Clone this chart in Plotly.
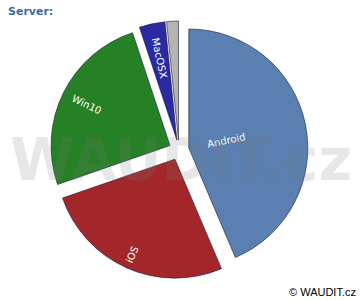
import math
import plotly.graph_objects as go

labels = ["Android", "iOS", "Win10", "MacOSX", "Ostatní"]
values = [43.6, 26.1, 25.2, 3.5, 1.6]
slice_text = ["Android", "iOS", "Win10", "MacOSX", ""]
colors = ["#5a7fb0", "#a3262a", "#268026", "#2a2aa5", "#b4b4b4"]

# label placement style (fraction of radius from the slice apex)
label_radius_frac = [0.32, 0.88, 0.78, 0.71, 0.5]

PULL = 0.084
PLOT_PX = 258.0
R_PX = PLOT_PX / (2 + 2 * PULL)

fig = go.Figure(go.Pie(
    labels=labels,
    values=values,
    textinfo="none",
    marker=dict(colors=colors, line=dict(color="rgba(20,30,50,0.75)", width=0.8)),
    pull=[PULL] * len(values),
    sort=False,
    direction="clockwise",
    rotation=0,
    showlegend=False,
    hoverinfo="label+percent",
))

annotations = []
total = sum(values)
cum = 0.0
for lab, v, frac in zip(slice_text, values, label_radius_frac):
    mid = (cum + v / 2) / total * 360.0
    cum += v
    if not lab:
        continue
    dist = R_PX * (PULL + frac)
    th = math.radians(mid)
    xp = 0.5 + dist * math.sin(th) / PLOT_PX
    yp = 0.5 + dist * math.cos(th) / PLOT_PX
    ang = mid - 90 if mid <= 180 else mid - 270
    annotations.append(dict(
        text=lab, xref="paper", yref="paper", x=xp, y=yp,
        xanchor="center", yanchor="middle", showarrow=False, textangle=ang,
        font=dict(family="DejaVu Sans", size=10, color="white")))

annotations += [
    dict(text="<b>WAUDIT.cz</b>", xref="paper", yref="paper", x=0.5, y=0.5,
         xanchor="center", yanchor="middle", showarrow=False,
         font=dict(family="DejaVu Sans", size=58, color="rgba(120,120,120,0.18)"),
         xshift=2, yshift=-10),
    dict(text="<b>Server:</b>", xref="paper", yref="paper", x=0, y=1,
         xanchor="left", yanchor="top", showarrow=False,
         font=dict(family="DejaVu Sans", size=11, color="#3c6aa5"),
         xshift=-44, yshift=18),
    dict(text="© WAUDIT.cz", xref="paper", yref="paper", x=1, y=0,
         xanchor="right", yanchor="bottom", showarrow=False,
         font=dict(family="Liberation Sans", size=11, color="black"),
         xshift=50, yshift=-21),
]

fig.update_layout(
    width=360, height=300,
    margin=dict(l=50, r=52, t=21, b=21),
    paper_bgcolor="white",
    plot_bgcolor="white",
    annotations=annotations,
)

fig.write_html("out.html")
